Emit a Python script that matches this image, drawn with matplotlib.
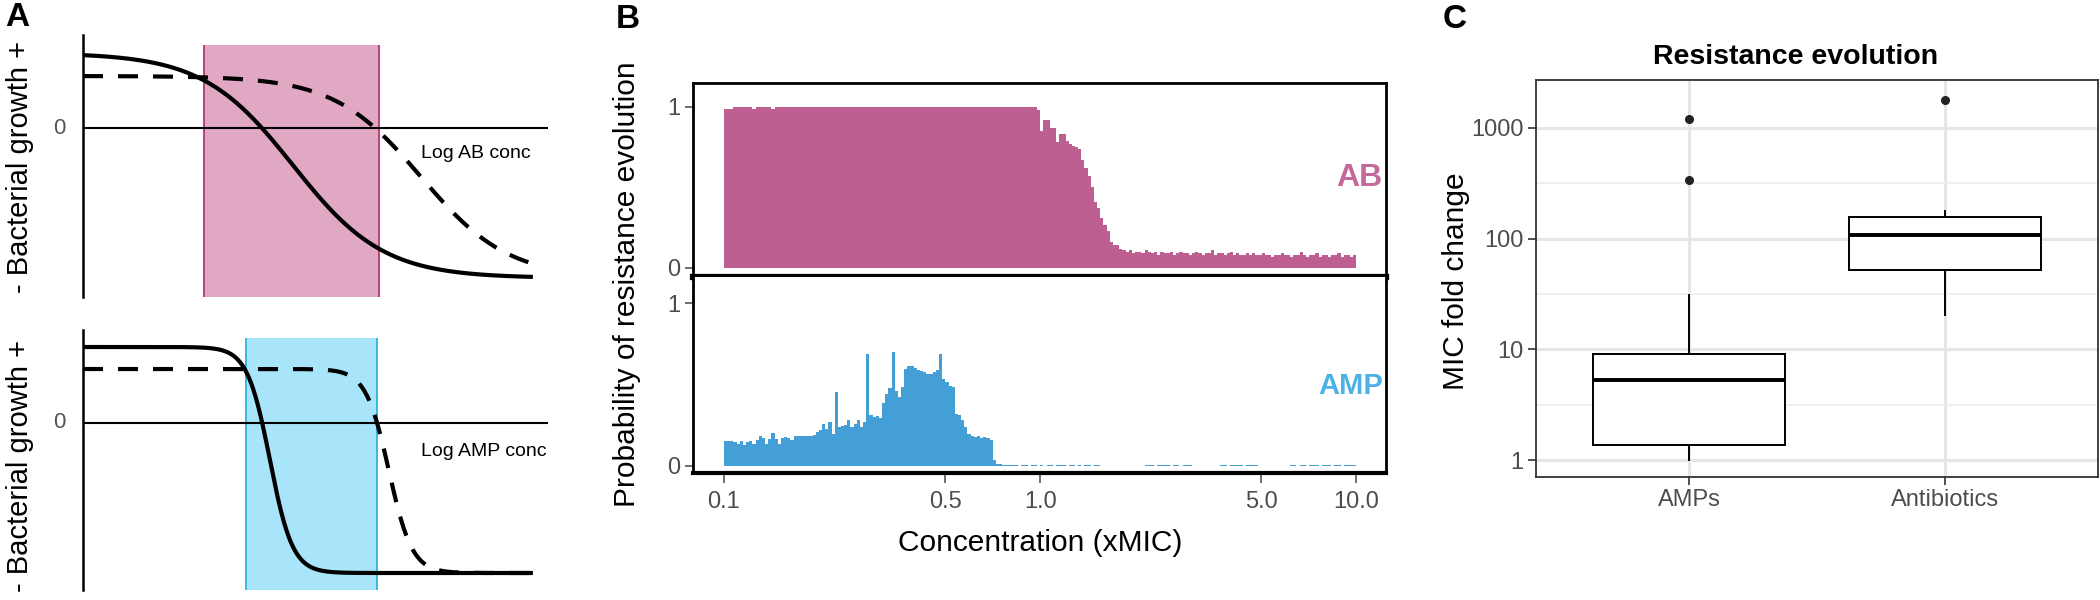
import numpy as np
import matplotlib
matplotlib.use('Agg')
import matplotlib.pyplot as plt
from matplotlib import font_manager
from matplotlib.ticker import NullLocator, FixedLocator

plt.rcParams['font.family'] = ['Liberation Sans', 'DejaVu Sans']

# condensed bold for the panel letters and the AB / AMP tags, if installed
installed = {f.name for f in font_manager.fontManager.ttflist}
has_narrow = 'Liberation Sans Narrow' in installed
tag_family = ['Liberation Sans Narrow', 'Liberation Sans'] if has_narrow else ['Liberation Sans']
tag_size = 25 if has_narrow else 23

# ---------- data ----------
# Panel A: schematic growth curves (top, bottom, midpoint, steepness) on a log-conc axis
ab_solid = dict(gmax=1.5, gmin=-3.0, x50=4.52, k=1.03)
ab_dashed = dict(gmax=1.04, gmin=-3.0, x50=7.27, k=1.07)
amp_solid = dict(gmax=1.52, gmin=-3.0, x50=4.02, k=4.1)
amp_dashed = dict(gmax=1.08, gmin=-3.0, x50=6.58, k=4.0)
ab_window = (2.60, 6.37)
amp_window = (3.51, 6.32)

# Panel B: probability of resistance evolution, 100 bins per decade from 0.1 to 10 xMIC
ab_prob = [
    0.99, 0.99, 0.99, 1, 1, 1, 1, 1, 1, 0.99, 1, 1, 1, 1, 1, 0.99, 1, 1, 1, 1,
    1, 1, 1, 1, 1, 1, 1, 1, 1, 1, 1, 1, 1, 1, 1, 1, 1, 1, 1, 1,
    1, 1, 1, 1, 1, 1, 1, 1, 1, 1, 1, 1, 1, 1, 1, 1, 1, 1, 1, 1,
    1, 1, 1, 1, 1, 1, 1, 1, 1, 1, 1, 1, 1, 1, 1, 1, 1, 1, 1, 1,
    1, 1, 1, 1, 1, 1, 1, 1, 1, 1, 1, 1, 1, 1, 1, 1, 1, 1, 1,
    0.98, 0.85, 0.92, 0.92, 0.87, 0.87, 0.78, 0.83, 0.83, 0.79, 0.77, 0.76, 0.75, 0.74,
    0.67, 0.62, 0.57, 0.50, 0.41, 0.37, 0.31, 0.27, 0.23, 0.16, 0.14, 0.14, 0.12, 0.11,
    0.10, 0.11, 0.09, 0.10, 0.10, 0.09, 0.11, 0.10, 0.09, 0.10,
    0.08, 0.10, 0.09, 0.09, 0.10, 0.08, 0.09, 0.10, 0.09, 0.09,
    0.08, 0.09, 0.10, 0.09, 0.08, 0.09, 0.09, 0.11, 0.08, 0.09,
    0.09, 0.08, 0.09, 0.10, 0.08, 0.09, 0.08, 0.08, 0.09, 0.08,
    0.09, 0.08, 0.08, 0.09, 0.08, 0.08, 0.07, 0.08, 0.08, 0.09,
    0.08, 0.08, 0.07, 0.08, 0.08, 0.10, 0.08, 0.07, 0.08, 0.08,
    0.09, 0.07, 0.08, 0.08, 0.07, 0.08, 0.08, 0.09, 0.07, 0.08,
    0.08, 0.07, 0.08,
]
amp_prob = [
    0.153, 0.153, 0.151, 0.149, 0.137, 0.151, 0.129, 0.147, 0.153, 0.137,
    0.162, 0.186, 0.172, 0.137, 0.166, 0.202, 0.166, 0.133, 0.170, 0.178,
    0.174, 0.157, 0.182, 0.186, 0.182, 0.182, 0.186, 0.186, 0.190, 0.207,
    0.219, 0.260, 0.227, 0.270, 0.194, 0.454, 0.239, 0.243, 0.252, 0.280,
    0.239, 0.260, 0.284, 0.239, 0.270, 0.689, 0.311, 0.301, 0.305, 0.297,
    0.387, 0.444, 0.481, 0.699, 0.460, 0.423, 0.485, 0.597, 0.611, 0.611,
    0.603, 0.591, 0.583, 0.575, 0.566, 0.566, 0.575, 0.587, 0.689, 0.534,
    0.515, 0.489, 0.485, 0.317, 0.311, 0.280, 0.239, 0.194, 0.186, 0.178,
    0.182, 0.174, 0.178, 0.170, 0.162, 0.035,
    0.01, 0.01, 0.008, 0.008, 0.006, 0.006, 0.006, 0, 0.005, 0.005,
    0, 0.005, 0.005, 0, 0.005, 0, 0.004, 0.004, 0, 0.004,
    0.004, 0.004, 0, 0.004, 0.004, 0, 0.004, 0, 0.004, 0.004,
    0, 0.004, 0.004, 0, 0, 0, 0, 0, 0, 0,
    0, 0, 0, 0, 0, 0, 0, 0.004, 0.004, 0.004,
    0, 0.004, 0.004, 0.004, 0.004, 0, 0.004, 0.004, 0, 0.004,
    0.004, 0.004, 0, 0, 0, 0, 0, 0, 0, 0,
    0, 0.004, 0.004, 0, 0.004, 0.004, 0.004, 0.004, 0, 0.004,
    0.004, 0.004, 0.004, 0, 0, 0, 0, 0, 0, 0,
    0, 0, 0, 0.004, 0.004, 0, 0.004, 0.004, 0, 0.004,
    0.004, 0.004, 0, 0.004, 0.004, 0.004, 0, 0.004, 0.004, 0,
    0.004, 0.004, 0.004, 0.004,
]
conc_ticks = [0.1, 0.5, 1.0, 5.0, 10.0]
conc_labels = ['0.1', '0.5', '1.0', '5.0', '10.0']

# Panel C: MIC fold change box statistics
groups = ['AMPs', 'Antibiotics']
q1 = [1.36, 52.5]
medians = [5.25, 107]
q3 = [9.0, 155]
whisk_lo = [1.0, 20.4]
whisk_hi = [31, 178]
outliers = [[340, 1200], [1780]]

W, H = 2100, 600
fig = plt.figure(figsize=(21, 6), dpi=100)


def px_axes(x0, y0, x1, y1):
    # add axes from pixel box (top-left origin)
    return fig.add_axes([x0 / W, 1 - y1 / H, (x1 - x0) / W, (y1 - y0) / H])


def growth(x, p):
    return p['gmin'] + (p['gmax'] - p['gmin']) / (1 + np.exp(p['k'] * (x - p['x50'])))


# ---------- Panel A ----------
def panel_a(ax, solid, dashed, window, top, fill, edge, label, y_label):
    ax.set_xlim(0, 10)
    for s in ['top', 'right', 'bottom']:
        ax.spines[s].set_visible(False)
    ax.spines['left'].set_linewidth(1.8)
    ax.set_xticks([])
    ax.set_yticks([])
    ax.patch.set_alpha(0)
    y0, y1 = ax.get_ylim()
    frac = (top - y0) / (y1 - y0)
    ax.axvspan(window[0], window[1], ymin=0, ymax=frac, color=fill, lw=0)
    ax.vlines(window, y0, top, color=edge, lw=1.3)
    ax.axhline(0, color='black', lw=1.5)
    x = np.linspace(0, 9.63, 400)
    ax.plot(x, growth(x, dashed), color='black', lw=3, dashes=(4.8, 3.6))
    ax.plot(x, growth(x, solid), color='black', lw=3)
    ax.text(-0.52, 0, '0', ha='center', va='center', fontsize=16, color='#555555', clip_on=False)
    ax.text(7.27, y_label, label, ha='left', va='center', fontsize=14)


axA1 = px_axes(83, 35, 548, 297)
axA1.set_ylim(-3.38, 1.86)
panel_a(axA1, ab_solid, ab_dashed, ab_window, 1.66, '#e0a8c2', '#b03a72', 'Log AB conc', -0.5)

axA2 = px_axes(83, 330, 548, 590)
axA2.set_ylim(-3.34, 1.86)
panel_a(axA2, amp_solid, amp_dashed, amp_window, 1.70, '#a9e5fa', '#28b2e6', 'Log AMP conc', -0.58)

fig.text(20 / W, 1 - 167 / H, '- Bacterial growth +', rotation=90, ha='center', va='center', fontsize=21)
fig.text(20 / W, 1 - 466 / H, '- Bacterial growth +', rotation=90, ha='center', va='center', fontsize=21)

# ---------- Panel B ----------
conc_edges = 10 ** np.linspace(-1, 1, len(ab_prob) + 1)
axB1 = px_axes(693, 83, 1386, 277)
axB2 = px_axes(693, 277, 1386, 473)

axB1.stairs(ab_prob, conc_edges, fill=True, color='#bd5f90', lw=0)
axB2.stairs(amp_prob, conc_edges, fill=True, color='#449fd6', lw=0)

for ax, ylim in [(axB1, (-0.056, 1.149)), (axB2, (-0.043, 1.16))]:
    ax.set_xscale('log')
    ax.set_xlim(0.0798, 12.4)
    ax.set_ylim(*ylim)
    ax.xaxis.set_minor_locator(NullLocator())
    ax.set_yticks([0, 1])
    ax.set_yticklabels(['0', '1'])
    ax.tick_params(axis='y', length=6, width=1.2, color='#555555', labelcolor='#4d4d4d', labelsize=17, pad=3)
    for s in ['left', 'right', 'top']:
        ax.spines[s].set_linewidth(2)
        ax.spines[s].set_color('black')

axB1.spines['bottom'].set_linewidth(4.5)
axB1.set_xticks([])
axB2.spines['top'].set_visible(False)
axB2.spines['bottom'].set_linewidth(3)
axB2.xaxis.set_major_locator(FixedLocator(conc_ticks))
axB2.set_xticklabels(conc_labels)
axB2.tick_params(axis='x', length=7, width=1.2, color='#555555', labelcolor='#4d4d4d', labelsize=17, pad=6)

axB1.text(12.1, 0.56, 'AB', ha='right', va='center', fontsize=tag_size, fontweight='bold',
          color='#c4699c', family=tag_family)
axB2.text(12.1, 0.49, 'AMP', ha='right', va='center', fontsize=tag_size - 2, fontweight='bold',
          color='#4cb2e6', family=tag_family)

fig.text(1040 / W, 1 - 543 / H, 'Concentration (xMIC)', ha='center', va='center', fontsize=21.5)
fig.text(627 / W, 1 - 284 / H, 'Probability of resistance evolution', rotation=90,
         ha='center', va='center', fontsize=21.5)

# ---------- Panel C ----------
axC = px_axes(1536, 80, 2098, 477)
stats = []
for i, g in enumerate(groups):
    stats.append(dict(label=g, q1=q1[i], med=medians[i], q3=q3[i],
                      whislo=whisk_lo[i], whishi=whisk_hi[i], fliers=outliers[i]))
axC.bxp(stats, positions=[1, 2], widths=0.75, showcaps=False, patch_artist=True,
        boxprops=dict(facecolor='white', edgecolor='black', linewidth=1.4),
        medianprops=dict(color='black', linewidth=2.8),
        whiskerprops=dict(color='black', linewidth=1.4),
        flierprops=dict(marker='o', markerfacecolor='#222222', markeredgecolor='#222222', markersize=5.5))
axC.set_yscale('log')
axC.set_ylim(0.703, 2700)
axC.set_xlim(0.4, 2.6)
axC.yaxis.set_major_locator(FixedLocator([1, 10, 100, 1000]))
axC.yaxis.set_minor_locator(FixedLocator([3.162, 31.62, 316.2]))
axC.set_yticklabels(['1', '10', '100', '1000'])
axC.set_xticks([1, 2])
axC.set_xticklabels(groups)
axC.set_axisbelow(True)
axC.grid(which='major', color='#e6e6e6', lw=2.2)
axC.grid(which='minor', axis='y', color='#eeeeee', lw=1.3)
axC.tick_params(which='major', length=6, width=1.2, color='#333333', labelcolor='#4d4d4d', labelsize=17, pad=3)
axC.tick_params(which='minor', length=0)
for s in axC.spines.values():
    s.set_color('#333333')
    s.set_linewidth(1.3)

fig.text(1456 / W, 1 - 281 / H, 'MIC fold change', rotation=90, ha='center', va='center', fontsize=21.5)
fig.text(1796 / W, 1 - 57 / H, 'Resistance evolution', ha='center', va='center', fontsize=20.5, fontweight='bold')

# panel letters
for x, y, s in [(17, 18, 'A'), (628, 20, 'B'), (1455, 20, 'C')]:
    fig.text(x / W, 1 - y / H, s, ha='center', va='center', fontsize=26 if has_narrow else 24,
             fontweight='bold', family=tag_family)

fig.savefig('out.png', dpi=100)
